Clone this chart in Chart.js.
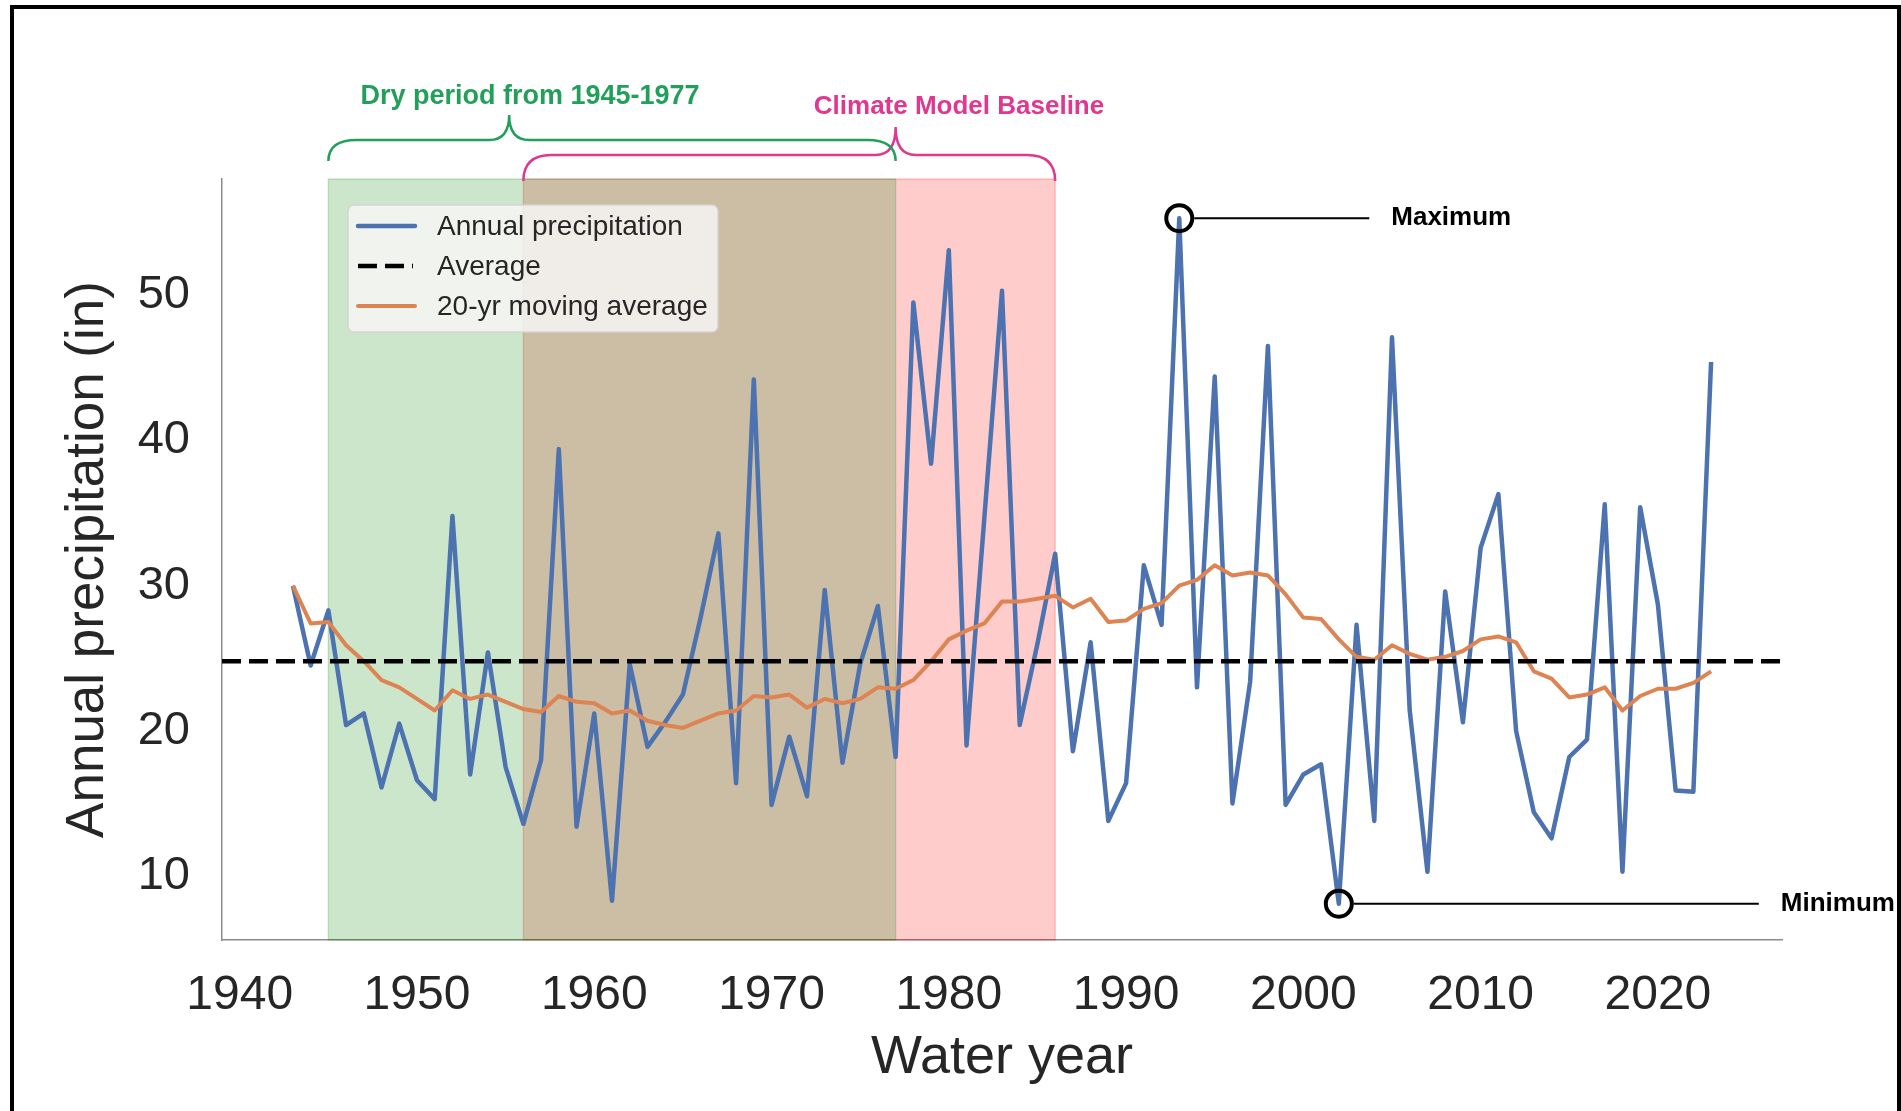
<!DOCTYPE html>
<html>
<head>
<meta charset="utf-8">
<script src="https://cdn.jsdelivr.net/npm/chart.js@4.4.1/dist/chart.umd.min.js"></script>
<style>
  html, body { margin: 0; padding: 0; background: #fff; }
  canvas { display: block; }
</style>
</head>
<body>
<canvas id="precipChart" width="1901" height="1111"></canvas>
<script>
// water years on the x axis
const years = [
    1943, 1944, 1945, 1946, 1947, 1948, 1949, 1950, 1951, 1952,
    1953, 1954, 1955, 1956, 1957, 1958, 1959, 1960, 1961, 1962,
    1963, 1964, 1965, 1966, 1967, 1968, 1969, 1970, 1971, 1972,
    1973, 1974, 1975, 1976, 1977, 1978, 1979, 1980, 1981, 1982,
    1983, 1984, 1985, 1986, 1987, 1988, 1989, 1990, 1991, 1992,
    1993, 1994, 1995, 1996, 1997, 1998, 1999, 2000, 2001, 2002,
    2003, 2004, 2005, 2006, 2007, 2008, 2009, 2010, 2011, 2012,
    2013, 2014, 2015, 2016, 2017, 2018, 2019, 2020, 2021, 2022,
    2023
];

// annual precipitation (in)
const annualPrecip = [
    30.0, 24.5, 28.3, 20.4, 21.2, 16.1, 20.5, 16.6, 15.3, 34.8,
    17.0, 25.4, 17.5, 13.6, 18.0, 39.4, 13.4, 21.2, 8.3, 24.6,
    18.9, 20.6, 22.5, 27.8, 33.6, 16.4, 44.2, 14.9, 19.6, 15.5,
    29.7, 17.8, 24.6, 28.6, 18.2, 49.5, 38.4, 53.1, 19.0, 34.6,
    50.3, 20.4, 26.0, 32.2, 18.6, 26.1, 13.8, 16.4, 31.4, 27.3,
    55.3, 23.0, 44.4, 15.0, 23.4, 46.5, 14.9, 17.0, 17.7, 8.1,
    27.3, 13.8, 47.1, 21.4, 10.3, 29.6, 20.6, 32.6, 36.3, 20.0,
    14.4, 12.6, 18.2, 19.4, 35.6, 10.3, 35.4, 28.7, 15.9, 15.8,
    45.4
];

// 20-yr moving average (in)
const movingAvg20 = [
    30.0, 27.4, 27.5, 25.9, 24.8, 23.5, 23.0, 22.2, 21.4, 22.8,
    22.2, 22.5, 22.0, 21.5, 21.3, 22.4, 22.0, 21.9, 21.2, 21.4,
    20.7, 20.4, 20.2, 20.7, 21.2, 21.4, 22.4, 22.3, 22.5, 21.6,
    22.2, 21.9, 22.2, 23.0, 22.9, 23.5, 24.8, 26.3, 26.9, 27.4,
    28.9, 28.9, 29.1, 29.3, 28.5, 29.1, 27.5, 27.6, 28.4, 28.8,
    30.0, 30.4, 31.4, 30.7, 30.9, 30.7, 29.4, 27.8, 27.7, 26.3,
    25.1, 24.9, 25.9, 25.3, 24.9, 25.1, 25.5, 26.3, 26.5, 26.1,
    24.1, 23.6, 22.3, 22.5, 23.0, 21.4, 22.4, 22.9, 22.9, 23.3,
    24.1
];

const averagePrecip = 24.8;

const xTickLabels = [1940, 1950, 1960, 1970, 1980, 1990, 2000, 2010, 2020];
const yTickLabels = [10, 20, 30, 40, 50];
const xLimits = [1939, 2027];
const yLimits = [5.6, 58.0];

const dryPeriod = [1945, 1977];
const baselinePeriod = [1956, 1986];

const FONT = "'Liberation Sans', Arial, Helvetica, sans-serif";
const TEXT = '#262626';
const BLUE = '#4c72b0';
const ORANGE = '#dd8452';
const GREEN_TXT = '#22a05a';
const PINK_TXT = '#e0378f';

function drawBrace(ctx, x1, x2, xc, yEnd, yLine, yTip, r, cr) {
    ctx.beginPath();
    ctx.moveTo(x1, yEnd);
    ctx.quadraticCurveTo(x1, yLine, x1 + r, yLine);
    ctx.lineTo(xc - cr, yLine);
    ctx.quadraticCurveTo(xc, yLine, xc, yTip);
    ctx.quadraticCurveTo(xc, yLine, xc + cr, yLine);
    ctx.lineTo(x2 - r, yLine);
    ctx.quadraticCurveTo(x2, yLine, x2, yEnd);
    ctx.stroke();
}

function markPoint(ctx, px, py, lineLen, label) {
    ctx.strokeStyle = '#000';
    ctx.lineWidth = 4;
    ctx.beginPath();
    ctx.arc(px, py, 13, 0, Math.PI * 2);
    ctx.stroke();
    ctx.lineWidth = 2;
    ctx.beginPath();
    ctx.moveTo(px + 15, py);
    ctx.lineTo(px + lineLen, py);
    ctx.stroke();
    ctx.fillStyle = '#000';
    ctx.font = 'bold 26px ' + FONT;
    ctx.textAlign = 'left';
    ctx.textBaseline = 'middle';
    ctx.fillText(label, px + lineLen + 22, py);
}

const annotations = {
    id: 'annotations',
    beforeDatasetsDraw(chart) {
        const { ctx, chartArea: a, scales: { x } } = chart;
        ctx.save();
        const span = (range, color) => {
            const x0 = x.getPixelForValue(range[0]);
            const x1 = x.getPixelForValue(range[1]);
            ctx.fillStyle = color;
            ctx.fillRect(x0, a.top, x1 - x0, a.bottom - a.top);
            ctx.strokeStyle = color;
            ctx.lineWidth = 1.5;
            ctx.strokeRect(x0, a.top, x1 - x0, a.bottom - a.top);
        };
        span(baselinePeriod, 'rgba(255,0,0,0.2)');
        span(dryPeriod, 'rgba(0,128,0,0.2)');
        ctx.restore();
    },
    afterDatasetsDraw(chart) {
        const { ctx, scales: { x, y } } = chart;
        ctx.save();

        // legend box
        const bx = 348, by = 205;
        ctx.beginPath();
        ctx.roundRect(bx, by, 370, 127, 6);
        ctx.fillStyle = 'rgba(248,247,245,0.82)';
        ctx.fill();
        ctx.strokeStyle = 'rgba(212,212,212,0.9)';
        ctx.lineWidth = 1.5;
        ctx.stroke();
        const legendOrder = ['Annual precipitation', 'Average', '20-yr moving average'];
        legendOrder.forEach((name, i) => {
            const ds = chart.data.datasets.find(d => d.label === name);
            const ly = by + 21 + i * 40;
            ctx.strokeStyle = ds.borderColor;
            ctx.lineWidth = ds.borderWidth;
            ctx.setLineDash(ds.borderDash || []);
            ctx.lineCap = ds.borderDash ? 'butt' : 'round';
            ctx.beginPath();
            ctx.moveTo(358, ly);
            ctx.lineTo(ds.borderDash ? 413 : 415, ly);
            ctx.stroke();
            ctx.setLineDash([]);
            ctx.fillStyle = TEXT;
            ctx.font = '28px ' + FONT;
            ctx.textAlign = 'left';
            ctx.textBaseline = 'middle';
            ctx.fillText(name, 437, ly + 1);
        });
        ctx.lineCap = 'butt';

        // maximum / minimum markers
        const iMax = annualPrecip.indexOf(Math.max(...annualPrecip));
        const iMin = annualPrecip.indexOf(Math.min(...annualPrecip));
        markPoint(ctx, x.getPixelForValue(years[iMax]), y.getPixelForValue(annualPrecip[iMax]), 190, 'Maximum');
        markPoint(ctx, x.getPixelForValue(years[iMin]), y.getPixelForValue(annualPrecip[iMin]), 420, 'Minimum');

        // period braces above the plot
        ctx.lineWidth = 2.5;
        ctx.strokeStyle = PINK_TXT;
        drawBrace(ctx, x.getPixelForValue(baselinePeriod[0]), x.getPixelForValue(baselinePeriod[1]),
            x.getPixelForValue(dryPeriod[1]), 181, 155, 127, 28, 20);
        ctx.strokeStyle = GREEN_TXT;
        drawBrace(ctx, x.getPixelForValue(dryPeriod[0]), x.getPixelForValue(dryPeriod[1]),
            x.getPixelForValue(1955.2), 161, 140, 115, 28, 20);

        ctx.font = 'bold 27px ' + FONT;
        ctx.textAlign = 'center';
        ctx.textBaseline = 'middle';
        ctx.fillStyle = GREEN_TXT;
        ctx.fillText('Dry period from 1945-1977', 530, 97);
        ctx.fillStyle = PINK_TXT;
        ctx.font = 'bold 26px ' + FONT;
        ctx.fillText('Climate Model Baseline', 959, 107);
        ctx.restore();
    },
    afterDraw(chart) {
        const { ctx } = chart;
        ctx.save();
        ctx.strokeStyle = '#000';
        ctx.lineWidth = 4;
        ctx.beginPath();
        ctx.moveTo(12, 1115);
        ctx.lineTo(12, 7);
        ctx.lineTo(1899, 7);
        ctx.lineTo(1899, 1115);
        ctx.stroke();
        ctx.restore();
    }
};

new Chart(document.getElementById('precipChart'), {
    type: 'line',
    data: {
        datasets: [
            {
                label: 'Average',
                data: xLimits.map(v => ({ x: v, y: averagePrecip })),
                borderColor: '#000000',
                borderWidth: 4.5,
                borderDash: [19, 8],
                pointRadius: 0,
                order: 0
            },
            {
                label: '20-yr moving average',
                data: years.map((yr, i) => ({ x: yr, y: movingAvg20[i] })),
                borderColor: ORANGE,
                borderWidth: 4,
                borderJoinStyle: 'round',
                pointRadius: 0,
                order: 1
            },
            {
                label: 'Annual precipitation',
                data: years.map((yr, i) => ({ x: yr, y: annualPrecip[i] })),
                borderColor: BLUE,
                borderWidth: 4.5,
                borderJoinStyle: 'round',
                pointRadius: 0,
                order: 2
            }
        ]
    },
    options: {
        responsive: false,
        animation: false,
        layout: { padding: { top: 179, right: 119, bottom: 0, left: 0 } },
        plugins: {
            legend: { display: false },
            tooltip: { enabled: false }
        },
        scales: {
            x: {
                type: 'linear',
                min: xLimits[0],
                max: xLimits[1],
                z: 1,
                grid: { display: false, drawTicks: false },
                border: { display: true, color: '#8c8c8c', width: 1.5 },
                afterBuildTicks: s => { s.ticks = xTickLabels.map(v => ({ value: v })); },
                afterFit: s => { s.height = 171; },
                ticks: {
                    color: TEXT,
                    font: { family: FONT, size: 48 },
                    padding: 27,
                    maxRotation: 0,
                    autoSkip: false,
                    callback: v => String(v)
                },
                title: {
                    display: true,
                    text: 'Water year',
                    color: TEXT,
                    font: { family: FONT, size: 54 },
                    padding: { top: 0, bottom: 20 }
                }
            },
            y: {
                min: yLimits[0],
                max: yLimits[1],
                z: 1,
                grid: { display: false, drawTicks: false },
                border: { display: true, color: '#8c8c8c', width: 1.5 },
                afterBuildTicks: s => { s.ticks = yTickLabels.map(v => ({ value: v })); },
                afterFit: s => { s.width = 222; },
                ticks: {
                    color: TEXT,
                    font: { family: FONT, size: 47 },
                    padding: 32,
                    autoSkip: false,
                    callback: v => String(v)
                },
                title: {
                    display: true,
                    text: 'Annual precipitation (in)',
                    color: TEXT,
                    font: { family: FONT, size: 53 },
                    padding: { top: 57, bottom: 0 }
                }
            }
        }
    },
    plugins: [annotations]
});
</script>
</body>
</html>
